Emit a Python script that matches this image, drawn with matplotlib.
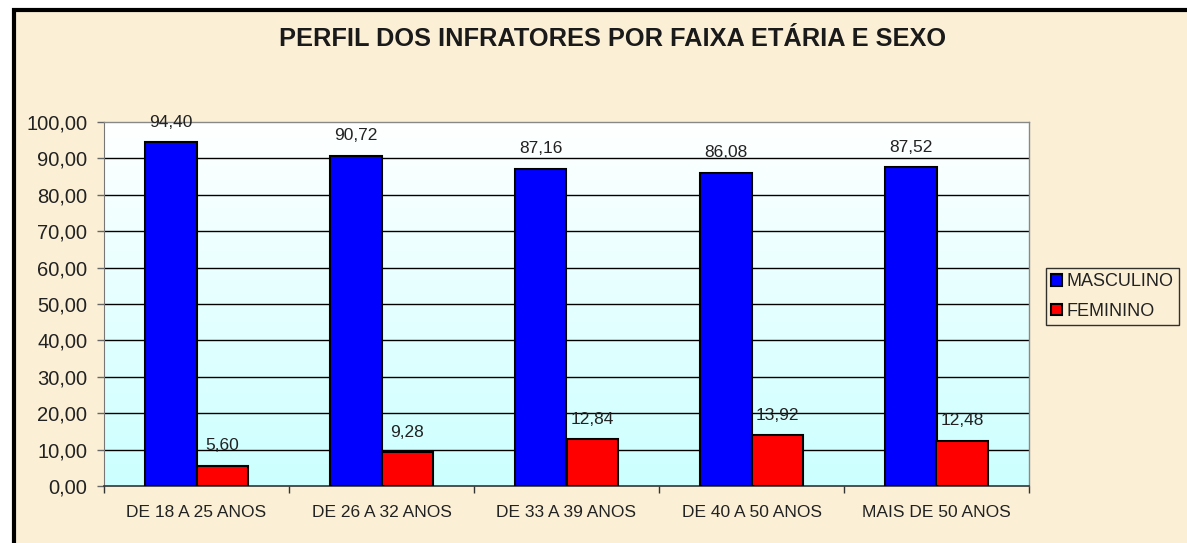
import numpy as np
import matplotlib
matplotlib.use("Agg")
import matplotlib.pyplot as plt
from matplotlib.patches import Rectangle

plt.rcParams["font.family"] = ["Liberation Sans", "DejaVu Sans"]

# dados
categorias = ["DE 18 A 25 ANOS", "DE 26 A 32 ANOS", "DE 33 A 39 ANOS",
              "DE 40 A 50 ANOS", "MAIS DE 50 ANOS"]
masculino = [94.40, 90.72, 87.16, 86.08, 87.52]
feminino = [5.60, 9.28, 12.84, 13.92, 12.48]
series = ["MASCULINO", "FEMININO"]
titulo = "PERFIL DOS INFRATORES POR FAIXA ETÁRIA E SEXO"

W, H = 1187, 543
BG = "#fbefd6"

fig = plt.figure(figsize=(W / 100, H / 100), dpi=100, facecolor="white")

# fundo pergaminho + moldura preta (direita e baixo saem da imagem)
fig.patches.append(Rectangle((14 / W, -0.1), 1.2, 1 - 10 / H + 0.1,
                             transform=fig.transFigure, facecolor=BG,
                             edgecolor="black", linewidth=3, zorder=-1))

ax = fig.add_axes([104 / W, 1 - 486 / H, (1029 - 104) / W, (486 - 122) / H])
ax.set_zorder(1)
ax.set_facecolor("none")

x = np.arange(len(categorias))
bw = 0.28
ax.set_xlim(-0.5, len(categorias) - 0.5)
ax.set_ylim(0, 100)

# gradiente branco -> ciano claro
grad = np.linspace(1, 0, 256).reshape(-1, 1)
c_top = np.array([1.0, 1.0, 1.0])
c_bot = np.array([0.80, 1.0, 1.0])
img = c_bot + (c_top - c_bot) * grad[..., None]
img = img.reshape(256, 1, 3)
ax.imshow(img, extent=[-0.5, len(categorias) - 0.5, 0, 100], aspect="auto",
          zorder=0, origin="upper")

for yv in np.arange(10, 100, 10):
    ax.axhline(yv, color="black", linewidth=1, zorder=1)

b1 = ax.bar(x - bw / 2, masculino, bw, color="#0000ff", edgecolor="black",
            linewidth=1.5, zorder=3, label=series[0])
b2 = ax.bar(x + bw / 2, feminino, bw, color="#ff0000", edgecolor="black",
            linewidth=1.5, zorder=3, label=series[1])

for bars, vals in ((b1, masculino), (b2, feminino)):
    for r, v in zip(bars, vals):
        ax.annotate(f"{v:.2f}".replace(".", ","),
                    (r.get_x() + r.get_width() / 2, v),
                    xytext=(0, 9), textcoords="offset points",
                    ha="center", va="bottom", fontsize=12.5, color="#222222",
                    zorder=4)

ax.set_yticks(np.arange(0, 101, 10))
ax.set_yticklabels([f"{v:.2f}".replace(".", ",") for v in np.arange(0, 101, 10)],
                   fontsize=14.5, color="#222222")
ax.set_xticks(np.arange(-0.5, len(categorias), 1.0))
ax.set_xticklabels([])
ax.set_xticks(x, minor=True)
ax.set_xticklabels(categorias, minor=True, fontsize=12.5, color="#222222")
ax.tick_params(axis="x", which="major", length=5, color="#333333", width=1)
ax.tick_params(axis="x", which="minor", length=0, pad=14)
ax.tick_params(axis="y", length=5, color="#666666", width=1, pad=7)

for s in ("top", "right"):
    ax.spines[s].set_color("#888888")
    ax.spines[s].set_linewidth(1)
ax.spines["left"].set_color("#777777")
ax.spines["bottom"].set_color("#333333")
ax.spines["bottom"].set_linewidth(1.2)

fig.text(613 / W, 1 - 39 / H, titulo, ha="center", va="center",
         fontsize=18.3, fontweight="bold", color="#1a1a1a")

leg = fig.legend(handles=[b1, b2], labels=series,
                 loc="upper left", bbox_to_anchor=(1046 / W, 1 - 268 / H),
                 frameon=True, fancybox=False, fontsize=13,
                 handlelength=0.6, handleheight=0.6, handletextpad=0.25,
                 borderpad=0.3, labelspacing=0.7, borderaxespad=0)
leg.get_frame().set_edgecolor("black")
leg.get_frame().set_facecolor(BG)
leg.get_frame().set_linewidth(1)
for t in leg.get_texts():
    t.set_color("#222222")

fig.savefig("out.png", dpi=100, facecolor="white")
